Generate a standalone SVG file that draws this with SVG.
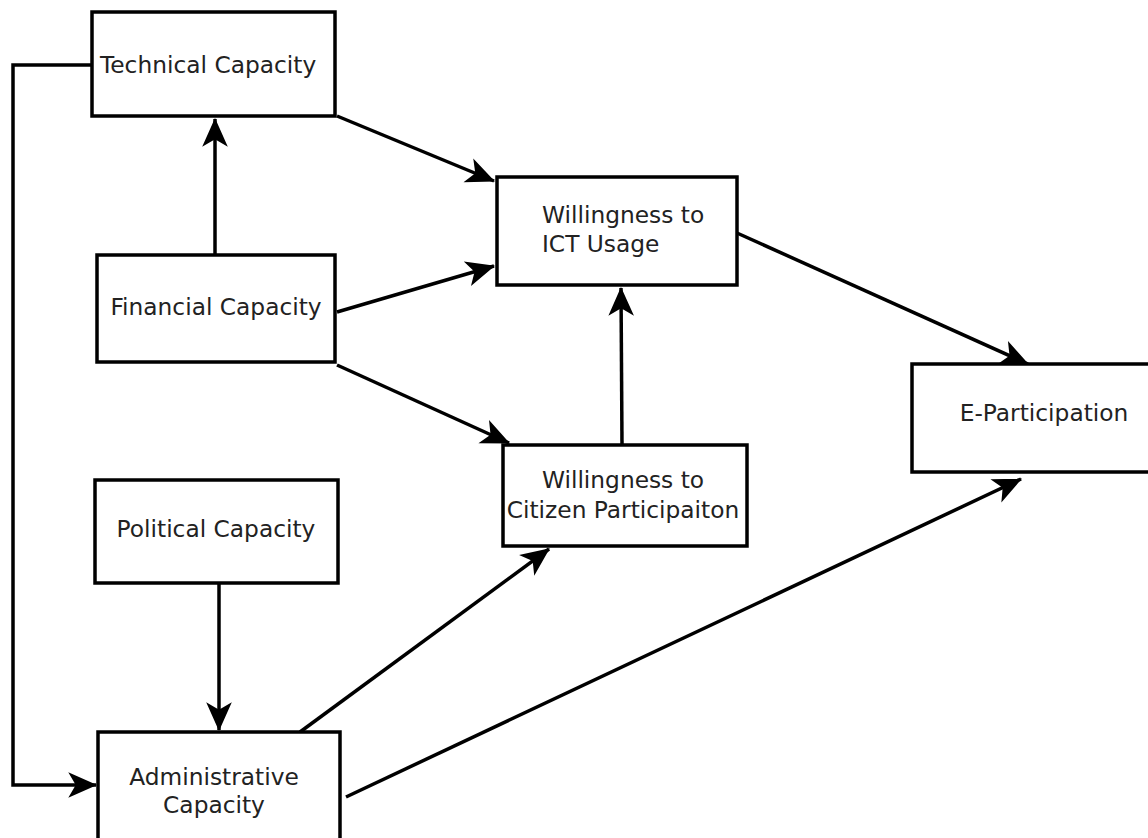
<svg xmlns="http://www.w3.org/2000/svg" width="1148" height="838" viewBox="0 0 1148 838">
<style>
.box{fill:#fff;stroke:#000;stroke-width:3.5}
.lbl{font-family:"DejaVu Sans",sans-serif;font-size:23.3px;fill:#222}
.c{text-anchor:middle}
.edge{fill:none;stroke:#000;stroke-width:3.5}
</style>
<defs>
<marker id="ah" markerUnits="userSpaceOnUse" markerWidth="32" markerHeight="32" refX="0" refY="0" viewBox="-28 -14 30 28" orient="auto">
<path d="M1,0 L-26,-12 L-19,0 L-26,12 Z" fill="#000"/>
</marker>
</defs>
<rect width="1148" height="838" fill="#fff"/>
<g id="edges">
<path class="edge" d="M92,65 H13 V785 H96" marker-end="url(#ah)"/>
<path class="edge" d="M215,255 V119" marker-end="url(#ah)"/>
<path class="edge" d="M337,116 L494,181" marker-end="url(#ah)"/>
<path class="edge" d="M337,312 L494,266" marker-end="url(#ah)"/>
<path class="edge" d="M337,365 L509,443" marker-end="url(#ah)"/>
<path class="edge" d="M622,445 L621,288" marker-end="url(#ah)"/>
<path class="edge" d="M737,233 L1028,364" marker-end="url(#ah)"/>
<path class="edge" d="M219,583 V730" marker-end="url(#ah)"/>
<path class="edge" d="M300,732 L549,549" marker-end="url(#ah)"/>
<path class="edge" d="M346,797 L1021,479" marker-end="url(#ah)"/>
</g>
<g id="technical"><rect class="box" x="92" y="12" width="243" height="104"/><text class="lbl" x="100" y="73">Technical Capacity</text></g>
<g id="financial"><rect class="box" x="97" y="255" width="238" height="107"/><text class="lbl c" x="216" y="315">Financial Capacity</text></g>
<g id="political"><rect class="box" x="95" y="480" width="243" height="103"/><text class="lbl c" x="216" y="537">Political Capacity</text></g>
<g id="administrative"><rect class="box" x="98" y="732" width="242" height="110"/><text class="lbl c" x="214" y="785">Administrative</text><text class="lbl c" x="214" y="813">Capacity</text></g>
<g id="ict"><rect class="box" x="497" y="177" width="240" height="108"/><text class="lbl" x="542" y="223">Willingness to</text><text class="lbl" x="542" y="252">ICT Usage</text></g>
<g id="citizen"><rect class="box" x="503" y="445" width="244" height="101"/><text class="lbl c" x="623" y="488">Willingness to</text><text class="lbl c" x="623" y="518">Citizen Participaiton</text></g>
<g id="eparticipation"><rect class="box" x="912" y="364" width="250" height="108"/><text class="lbl c" x="1044" y="421">E-Participation</text></g>
</svg>
